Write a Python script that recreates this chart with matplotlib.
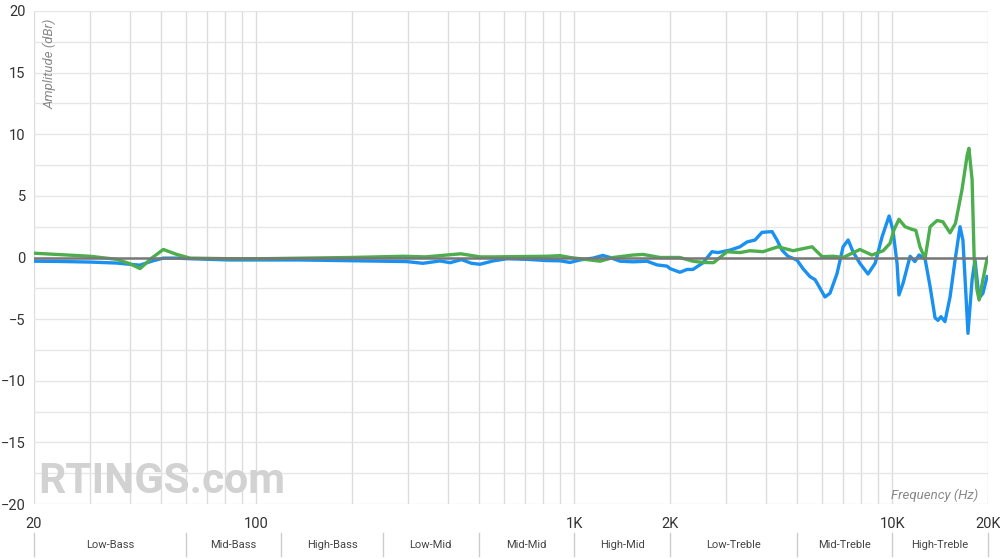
import matplotlib
matplotlib.use("Agg")
import matplotlib.pyplot as plt
import matplotlib.transforms as mtransforms
from matplotlib.lines import Line2D
from matplotlib import font_manager

# ---------------- data ----------------
blue_freq = [20, 24, 30, 36.4, 40, 43.1, 46.9, 51, 56.2, 61.9, 71.5, 82.6, 95.6, 137, 197,
             297, 334, 378, 407, 442, 475, 505, 555, 614, 710, 821, 902, 970, 1042, 1146,
             1230, 1296, 1393, 1531, 1694, 1820, 1958, 2000, 2148, 2262, 2361, 2540, 2710,
             2832, 3088, 3320, 3493, 3702, 3894, 4188, 4339, 4500, 4698, 5013, 5238, 5510,
             5718, 5930, 6142, 6370, 6704, 7004, 7266, 7524, 7910, 8388, 8832, 9292, 9772,
             10046, 10352, 10496, 10810, 11376, 11780, 12134, 12678, 13152, 13632, 13928,
             14230, 14642, 15196, 15740, 16332, 16680, 17062, 17300, 17826, 18200, 18752,
             19278, 19862]
blue_db = [-0.3, -0.32, -0.37, -0.45, -0.55, -0.62, -0.3, -0.05, -0.05, -0.1, -0.15, -0.2,
           -0.2, -0.2, -0.26, -0.33, -0.47, -0.28, -0.42, -0.17, -0.47, -0.55, -0.28, -0.1,
           -0.15, -0.25, -0.27, -0.4, -0.2, -0.05, 0.17, 0.0, -0.3, -0.35, -0.3, -0.6, -0.7,
           -0.9, -1.2, -0.97, -0.97, -0.43, 0.47, 0.4, 0.6, 0.87, 1.26, 1.42, 2.04, 2.1, 1.42,
           0.6, 0.1, -0.2, -0.9, -1.55, -1.8, -2.5, -3.2, -2.9, -1.3, 0.87, 1.42, 0.47, -0.47,
           -1.34, -0.47, 1.69, 3.37, 2.23, -0.47, -3.04, -2.1, 0.1, -0.33, 0.2, -0.1, -2.37,
           -4.9, -5.1, -4.8, -5.2, -3.2, -0.3, 2.5, 1.4, -3.2, -6.15, -1.8, -0.2, -3.3, -2.9,
           -1.55]

green_freq = [20, 30, 36.4, 40, 43.1, 46.9, 51, 56.2, 61.9, 82.6, 103, 197, 290, 340, 440,
              505, 555, 821, 902, 970, 1042, 1205, 1324, 1531, 1645, 1860, 2148, 2361, 2540,
              2740, 2872, 3022, 3320, 3573, 3922, 4370, 4874, 5596, 6016, 6514, 7004, 7910,
              8630, 9360, 9840, 10120, 10496, 10968, 11542, 11860, 12220, 12678, 13152, 13828,
              14422, 15196, 15800, 16560, 17200, 17420, 17826, 18090, 18460, 18752, 19278,
              19862, 20000]
green_db = [0.35, 0.1, -0.15, -0.5, -0.9, -0.05, 0.65, 0.25, -0.05, -0.1, -0.1, 0.0, 0.1,
            0.05, 0.3, 0.05, 0.05, 0.1, 0.15, 0.0, -0.1, -0.3, 0.0, 0.2, 0.25, 0.0, 0.0, -0.3,
            -0.4, -0.42, 0.0, 0.47, 0.4, 0.55, 0.47, 0.87, 0.55, 0.87, 0.07, 0.1, 0.0, 0.65,
            0.2, 0.55, 1.15, 2.23, 3.1, 2.5, 2.28, 2.2, 0.87, -0.1, 2.5, 3.0, 2.9, 2.0, 2.77,
            5.47, 8.3, 8.86, 6.3, 0.0, -2.6, -3.45, -1.8, -0.1, 0.0]

x_ticks = [20, 100, 1000, 2000, 10000, 20000]
x_tick_labels = ["20", "100", "1K", "2K", "10K", "20K"]
y_ticks = [-20, -15, -10, -5, 0, 5, 10, 15, 20]

band_edges = [20, 60, 120, 250, 500, 1000, 2000, 5000, 10000, 20000]
band_names = ["Low-Bass", "Mid-Bass", "High-Bass", "Low-Mid", "Mid-Mid", "High-Mid",
              "Low-Treble", "Mid-Treble", "High-Treble"]

# ---------------- figure ----------------
plt.rcParams['font.family'] = ['Roboto', 'DejaVu Sans']
fig = plt.figure(figsize=(10, 5.59), dpi=100)
ax = fig.add_axes([0.034, 1 - 504 / 559, 0.954, (504 - 11) / 559])
ax.set_xscale('log')
ax.set_xlim(20, 20000)
ax.set_ylim(-20, 20)

minor = [m * 10 ** e for e in range(1, 5) for m in range(1, 10) if 20 <= m * 10 ** e <= 20000]
for f in minor:
    ax.axvline(f, color='#dcdcdc', lw=1.0, zorder=0)
for yv in [v * 2.5 for v in range(-8, 9)]:
    ax.axhline(yv, color='#e6e6e6', lw=1.0, zorder=0)

for s in ax.spines.values():
    s.set_visible(False)

ax.set_xticks(x_ticks)
ax.set_xticklabels(x_tick_labels)
ax.xaxis.set_minor_locator(matplotlib.ticker.NullLocator())
ax.set_yticks(y_ticks)
ax.tick_params(axis='both', length=0, labelsize=10.5, colors='#333333')
ax.tick_params(axis='x', pad=9)
ax.tick_params(axis='y', pad=6)

# watermark: pick a narrow bold face if available
names = {f.name for f in font_manager.fontManager.ttflist}
wm_family = 'Liberation Sans Narrow' if 'Liberation Sans Narrow' in names else 'Roboto'
wm = ax.text(0.004, 0.004, "RTINGS.com", transform=ax.transAxes, fontsize=44, fontweight='bold',
             family=[wm_family, 'DejaVu Sans'], color='#d2d2d2', ha='left', va='bottom', zorder=1)
fig.canvas.draw()
bb = wm.get_window_extent()
wm.set_fontsize(44 * 247.0 / bb.width)

ax.plot(blue_freq, blue_db, color='#1a90f0', lw=2.4, zorder=3, solid_joinstyle='round')
ax.plot(green_freq, green_db, color='#4cae4c', lw=2.4, zorder=3, solid_joinstyle='round')
ax.axhline(0, color='#777777', lw=1.8, zorder=4)

ax.text(0.01, 0.985, "Amplitude (dBr)", transform=ax.transAxes, rotation=90, style='italic',
        fontsize=9.5, color='#888888', ha='left', va='top')
ax.text(0.99, 0.005, "Frequency (Hz)", transform=ax.transAxes, style='italic',
        fontsize=9.5, color='#888888', ha='right', va='bottom')

# band row
bt = mtransforms.blended_transform_factory(ax.transData, fig.transFigure)
for e in band_edges:
    fig.add_artist(Line2D([e, e], [1 - 533 / 559, 1 - 556 / 559], transform=bt,
                          color='#cccccc', lw=1.0))
for lo, hi, name in zip(band_edges[:-1], band_edges[1:], band_names):
    fig.text((lo * hi) ** 0.5, 1 - 545 / 559, name, transform=bt, ha='center', va='center',
             fontsize=8, color='#444444')

fig.savefig("out.png", dpi=100, facecolor='white')
